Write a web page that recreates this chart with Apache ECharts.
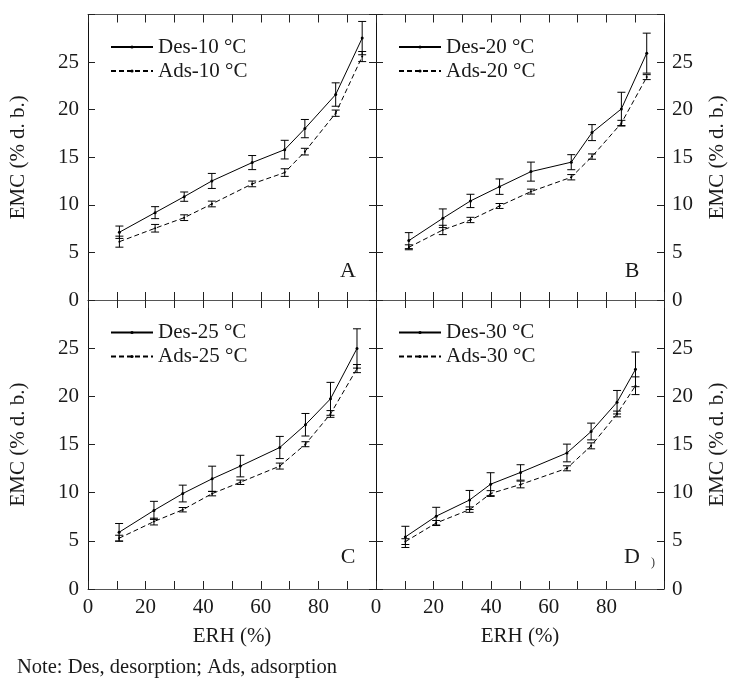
<!DOCTYPE html>
<html>
<head>
<meta charset="utf-8">
<script src="https://cdn.jsdelivr.net/npm/echarts@6/dist/echarts.min.js"></script>
<style>html,body{margin:0;padding:0;background:#fff;}#c{width:732px;height:684px;}</style>
</head>
<body>
<div id="c"></div>
<script>
// ---- data ----
const panelNames = ['A', 'B', 'C', 'D'];
const temps = ['10', '20', '25', '30'];

const erhA = [10.9, 23.3, 33.4, 43.0, 57.0, 68.3, 75.3, 86.0, 95.2];
const desA = [7.12, 9.18, 10.86, 12.51, 14.44, 15.80, 18.01, 21.59, 27.52];
const desErrA = [0.65, 0.63, 0.49, 0.79, 0.74, 0.98, 0.96, 1.23, 1.75];
const adsA = [6.13, 7.54, 8.65, 10.09, 12.20, 13.39, 15.59, 19.63, 25.58];
const adsErrA = [0.58, 0.40, 0.30, 0.30, 0.30, 0.40, 0.35, 0.33, 0.53];

const erhB = [11.4, 23.2, 32.8, 42.9, 53.8, 67.8, 75.0, 85.2, 94.0];
const desB = [6.24, 8.59, 10.41, 11.91, 13.49, 14.48, 17.59, 20.08, 25.94];
const desErrB = [0.84, 0.98, 0.70, 0.81, 1.00, 0.79, 0.84, 1.75, 2.10];
const adsB = [5.54, 7.36, 8.41, 9.88, 11.39, 12.90, 15.07, 18.58, 23.42];
const adsErrB = [0.26, 0.49, 0.28, 0.26, 0.26, 0.28, 0.28, 0.30, 0.26];

const erhC = [10.8, 22.9, 32.9, 43.1, 52.9, 66.6, 75.5, 84.2, 93.4];
const desC = [5.89, 8.16, 9.91, 11.44, 12.76, 14.69, 17.05, 19.74, 24.97];
const desErrC = [0.91, 0.94, 0.87, 1.31, 1.12, 1.15, 1.17, 1.71, 2.04];
const adsC = [5.27, 7.00, 8.23, 9.90, 11.08, 12.76, 15.03, 18.17, 22.88];
const adsErrC = [0.31, 0.35, 0.23, 0.23, 0.23, 0.31, 0.26, 0.35, 0.42];

const erhD = [10.2, 20.9, 32.5, 39.8, 50.2, 66.3, 74.7, 83.7, 90.1];
const desD = [5.41, 7.56, 9.24, 10.88, 12.10, 14.12, 16.35, 19.39, 22.80];
const desErrD = [1.10, 0.92, 0.99, 1.19, 0.80, 0.92, 0.87, 1.22, 1.80];
const adsD = [4.92, 6.85, 8.24, 9.91, 10.85, 12.53, 14.86, 18.17, 21.10];
const adsErrD = [0.30, 0.26, 0.28, 0.30, 0.35, 0.26, 0.31, 0.30, 0.92];

const xTickLabels = [0, 20, 40, 60, 80];
const yTickLabels = [0, 5, 10, 15, 20, 25];

const panels = [
  {erh: erhA, des: desA, desErr: desErrA, ads: adsA, adsErr: adsErrA},
  {erh: erhB, des: desB, desErr: desErrB, ads: adsB, adsErr: adsErrB},
  {erh: erhC, des: desC, desErr: desErrC, ads: adsC, adsErr: adsErrC},
  {erh: erhD, des: desD, desErr: desErrD, ads: adsD, adsErr: adsErrD}
];

// ---- layout ----
const FONT = 'Liberation Serif, Times New Roman, serif';
const TXT = '#1a1a1a';
const grids = [
  {left: 88, top: 14.5, width: 288, height: 285.5},
  {left: 376, top: 14.5, width: 288, height: 285.5},
  {left: 88, top: 300, width: 288, height: 289},
  {left: 376, top: 300, width: 288, height: 289}
];

const xAxes = [], yAxes = [], series = [], legends = [];

function errRender(params, api) {
  const x = api.value(0), y = api.value(1), e = api.value(2);
  const t = api.coord([x, y + e]);
  const b = api.coord([x, y - e]);
  const w = 4;
  const st = {stroke: '#000', lineWidth: 1};
  return {
    type: 'group',
    children: [
      {type: 'line', shape: {x1: t[0], y1: t[1], x2: b[0], y2: b[1]}, style: st},
      {type: 'line', shape: {x1: t[0] - w, y1: t[1], x2: t[0] + w, y2: t[1]}, style: st},
      {type: 'line', shape: {x1: b[0] - w, y1: b[1], x2: b[0] + w, y2: b[1]}, style: st}
    ]
  };
}

panels.forEach((p, i) => {
  const isBottom = i >= 2;
  const isRight = i % 2 === 1;
  const hLine = {show: true, onZero: false, lineStyle: {color: '#555', width: 1}};
  const vLine = {show: true, onZero: false, lineStyle: {color: '#111', width: 1}};
  const tick = (len) => ({show: true, inside: true, length: len, lineStyle: {color: '#222', width: 1}});
  // bottom x axis
  xAxes.push({
    gridIndex: i, type: 'value', position: 'bottom', min: 0, max: 100, interval: 10,
    axisLine: hLine, axisTick: tick(8), splitLine: {show: false},
    axisLabel: {
      show: isBottom, margin: 8, color: TXT, fontFamily: FONT, fontSize: 21,
      formatter: v => xTickLabels.indexOf(v) >= 0 ? String(v) : ''
    },
    name: isBottom ? 'ERH (%)' : '', nameLocation: 'middle', nameGap: 37,
    nameTextStyle: {color: TXT, fontFamily: FONT, fontSize: 21}
  });
  // top x axis (mirror ticks)
  xAxes.push({
    gridIndex: i, type: 'value', position: 'top', min: 0, max: 100, interval: 10,
    axisLine: hLine, axisTick: tick(8), axisLabel: {show: false}, splitLine: {show: false}
  });
  // left y axis
  yAxes.push({
    gridIndex: i, type: 'value', position: 'left', min: 0, max: 30, interval: 5,
    axisLine: vLine, axisTick: tick(7), splitLine: {show: false},
    axisLabel: {
      show: !isRight, margin: 9, color: TXT, fontFamily: FONT, fontSize: 21,
      formatter: v => yTickLabels.indexOf(v) >= 0 ? String(v) : ''
    },
    name: isRight ? '' : 'EMC (% d. b.)', nameLocation: 'middle', nameGap: 59, nameRotate: 90,
    nameTextStyle: {color: TXT, fontFamily: FONT, fontSize: 21}
  });
  // right y axis
  yAxes.push({
    gridIndex: i, type: 'value', position: 'right', min: 0, max: 30, interval: 5,
    axisLine: vLine, axisTick: tick(7), splitLine: {show: false},
    axisLabel: {
      show: isRight, margin: 8, color: TXT, fontFamily: FONT, fontSize: 21,
      formatter: v => yTickLabels.indexOf(v) >= 0 ? String(v) : ''
    },
    name: isRight ? 'EMC (% d. b.)' : '', nameLocation: 'middle', nameGap: 43, nameRotate: 90,
    nameTextStyle: {color: TXT, fontFamily: FONT, fontSize: 21}
  });

  const desName = 'Des-' + temps[i] + ' \u00B0C';
  const adsName = 'Ads-' + temps[i] + ' \u00B0C';
  const xi = i * 2, yi = i * 2;
  series.push({
    name: desName, type: 'line', xAxisIndex: xi, yAxisIndex: yi,
    data: p.erh.map((x, k) => [x, p.des[k]]),
    symbol: 'circle', symbolSize: 3, itemStyle: {color: '#000'},
    lineStyle: {color: '#000', width: 1, type: 'solid'}, silent: true, animation: false, z: 3
  });
  series.push({
    name: adsName, type: 'line', xAxisIndex: xi, yAxisIndex: yi,
    data: p.erh.map((x, k) => [x, p.ads[k]]),
    symbol: 'circle', symbolSize: 2, itemStyle: {color: '#000'},
    lineStyle: {color: '#000', width: 1, type: [5, 3]}, silent: true, animation: false, z: 3
  });
  series.push({
    type: 'custom', xAxisIndex: xi, yAxisIndex: yi, renderItem: errRender,
    encode: {x: 0, y: 1}, data: p.erh.map((x, k) => [x, p.des[k], p.desErr[k]]),
    silent: true, animation: false, z: 4
  });
  series.push({
    type: 'custom', xAxisIndex: xi, yAxisIndex: yi, renderItem: errRender,
    encode: {x: 0, y: 1}, data: p.erh.map((x, k) => [x, p.ads[k], p.adsErr[k]]),
    silent: true, animation: false, z: 4
  });

  const lg = grids[i];
  legends.push({
    data: [desName, adsName], orient: 'vertical',
    left: lg.left + 17, top: lg.top + 16,
    itemWidth: 42, itemHeight: 4, itemGap: 1, selectedMode: false,
    textStyle: {color: TXT, fontFamily: FONT, fontSize: 21, lineHeight: 23}
  });
});

const letterPos = [[348, 271], [632, 271], [348, 557], [632, 557]];
const graphics = letterPos.map((pt, i) => ({
  type: 'text', x: pt[0], y: pt[1],
  style: {text: panelNames[i], fill: TXT, font: '22px ' + FONT, align: 'center', verticalAlign: 'middle'}
}));
graphics.push({
  type: 'text', x: 653, y: 563,
  style: {text: ')', fill: '#333', font: '12px ' + FONT, align: 'center', verticalAlign: 'middle'}
});
graphics.push({
  type: 'text', x: 17, y: 668,
  style: {text: 'Note: Des, desorption; Ads, adsorption', fill: TXT, font: '20.5px ' + FONT, align: 'left', verticalAlign: 'middle'}
});

const chart = echarts.init(document.getElementById('c'), null, {renderer: 'canvas'});
chart.setOption({
  backgroundColor: '#fff',
  animation: false,
  grid: grids.map(g => Object.assign({containLabel: false, show: false}, g)),
  xAxis: xAxes,
  yAxis: yAxes,
  legend: legends,
  series: series,
  graphic: graphics
});
</script>
</body>
</html>
